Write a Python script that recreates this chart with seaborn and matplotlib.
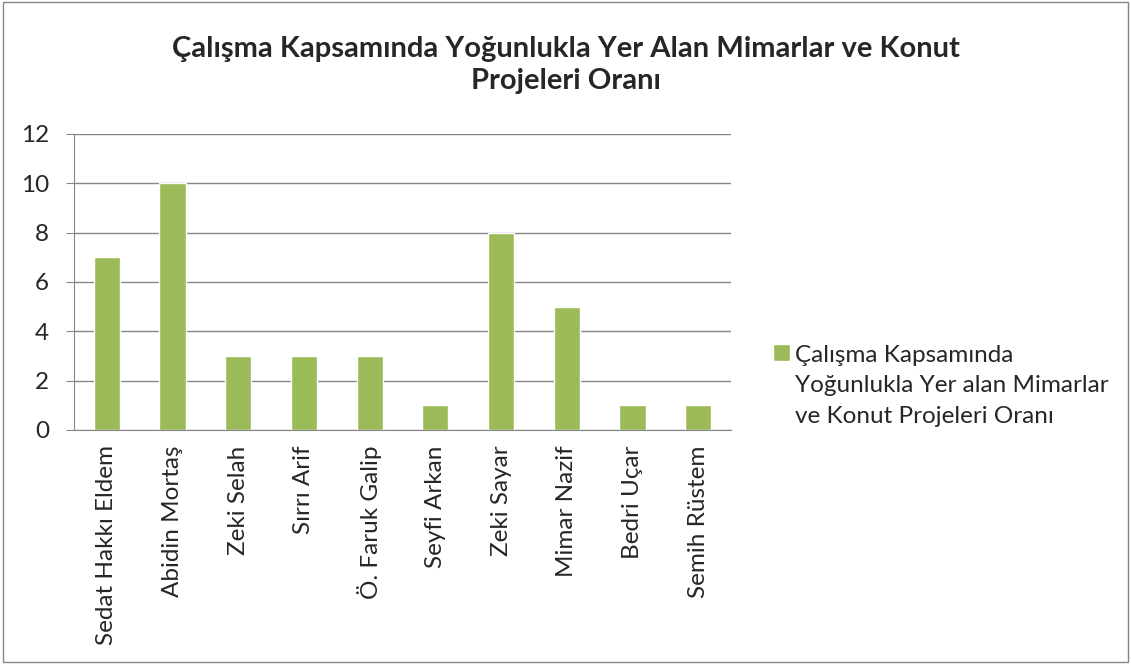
import pandas as pd
import seaborn as sns
import matplotlib.pyplot as plt
from matplotlib.patches import Patch, Rectangle
from matplotlib.legend_handler import HandlerPatch
import numpy as np

Mimarlar = ['Sedat Hakkı Eldem', 'Abidin Mortaş', 'Zeki Selah', 'Sırrı Arif', 'Ö. Faruk Galip',
            'Seyfi Arkan', 'Zeki Sayar', 'Mimar Nazif', 'Bedri Uçar', 'Semih Rüstem']
Oran = [7, 10, 3, 3, 3, 1, 8, 5, 1, 1]
Baslik = 'Çalışma Kapsamında Yoğunlukla Yer Alan Mimarlar ve Konut\nProjeleri Oranı'
SeriAdi = 'Çalışma Kapsamında\nYoğunlukla Yer alan Mimarlar\nve Konut Projeleri Oranı'

df = pd.DataFrame({'mimar': Mimarlar, 'oran': Oran})

sns.set_style('white')
plt.rcParams['font.family'] = ['Lato', 'DejaVu Sans']

fig = plt.figure(figsize=(11.31, 6.64), dpi=100)
ax = fig.add_axes([74 / 1131, 1 - 430 / 664, (731 - 74) / 1131, (430 - 134) / 664])

sns.barplot(data=df, x='mimar', y='oran', color='#9BBB59', width=0.4, saturation=1, ax=ax)

ax.set_ylim(0, 12)
ax.set_xlim(-0.5, len(Mimarlar) - 0.5)
ax.set_yticks(range(0, 13, 2))
ax.yaxis.grid(True, color='#868686', linewidth=1)
ax.set_axisbelow(True)
for s in ['top', 'right']:
    ax.spines[s].set_visible(False)
for s in ['left', 'bottom']:
    ax.spines[s].set_color('#868686')
ax.set_xlabel('')
ax.set_ylabel('')
ax.set_xticks(np.arange(-0.5, len(Mimarlar), 1), minor=True)
ax.tick_params(axis='x', which='major', length=0, labelsize=17.5, pad=11, labelrotation=90)
ax.tick_params(axis='x', which='minor', length=6, color='#868686', direction='out')
ax.tick_params(axis='y', length=6, color='#868686', labelsize=17.5, pad=12, left=True, direction='out')

fig.text(0.5, 1 - 65 / 664, Baslik, ha='center', va='center', fontsize=21, fontweight='bold',
         linespacing=1.3)


# legend marker sits next to the first line like in excel
def ilk_satir(legend, orig_handle, xdescent, ydescent, width, height, fontsize):
    return Rectangle((-xdescent, -ydescent + fontsize * 1.38), width, height)


h = [Patch(facecolor='#9BBB59')]
leg = fig.legend(h, [SeriAdi], loc='center left', bbox_to_anchor=(773 / 1131, 1 - 386 / 664), frameon=False,
                 fontsize=17.5, handlelength=0.7, handleheight=0.7, handletextpad=0.2, borderpad=0,
                 borderaxespad=0, handler_map={Patch: HandlerPatch(patch_func=ilk_satir)})
for t in leg.get_texts():
    t.set_linespacing(1.55)

fig.patches.append(Rectangle((0.003, 0.003), 0.994, 0.994, transform=fig.transFigure,
                             fill=False, edgecolor='#868686', linewidth=1))
fig.savefig('out.png', dpi=100)
